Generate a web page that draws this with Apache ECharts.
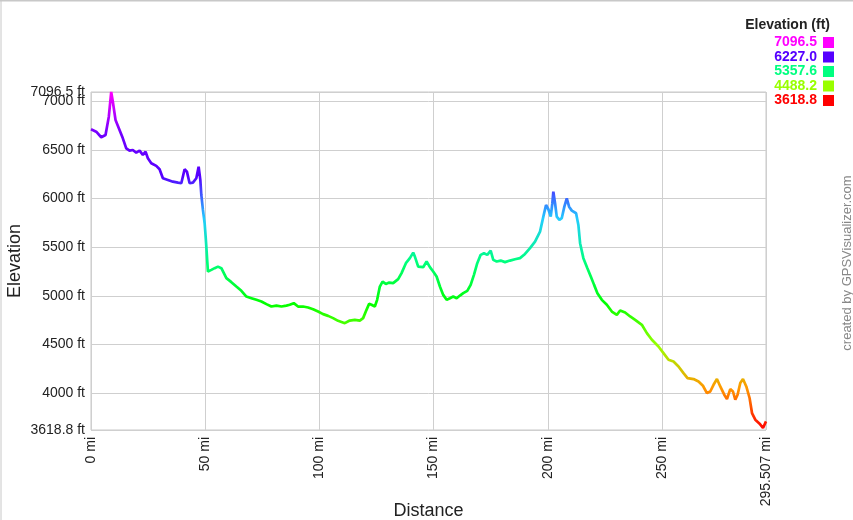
<!DOCTYPE html>
<html>
<head>
<meta charset="utf-8">
<script src="https://cdn.jsdelivr.net/npm/echarts@6/dist/echarts.min.js"></script>
<style>html,body{margin:0;padding:0;background:#fff}#c{width:853px;height:520px}</style>
</head>
<body>
<div id="c"></div>
<script>
// Distance (mi) and elevation (ft) read from the profile
var distance = [0,2.28,4.47,6.36,7.80,8.85,9.56,10.74,12.49,13.94,15.43,16.88,18.32,19.81,21.26,22.70,23.89,24.90,26.39,28.58,30.02,31.47,33.66,35.85,38.05,39.54,40.98,41.99,43.17,44.62,46.11,47.12,47.86,48.30,49.00,49.75,50.19,50.49,51.19,52.69,54.13,55.58,57.07,59.26,61.45,63.64,65.83,68.03,70.22,72.41,74.60,76.79,78.98,81.18,83.37,85.56,87.00,88.76,90.64,92.83,95.03,97.22,99.41,101.60,103.79,105.98,108.17,111.11,113.30,115.49,117.69,119.13,120.62,121.76,122.81,124.26,125.27,126.45,127.64,129.08,130.53,132.28,134.47,135.96,137.85,139.60,141.05,141.79,143.24,145.43,146.92,148.37,149.81,151.30,152.75,154.20,155.69,157.14,158.58,160.07,161.52,162.96,164.72,166.21,167.65,169.10,170.59,172.04,173.48,174.97,176.11,177.60,179.36,181.24,183.43,185.62,187.82,190.01,192.20,194.39,196.58,198.03,199.21,200.22,201.27,201.97,202.41,203.16,203.90,205.04,206.09,207.23,208.29,209.29,210.48,212.36,213.37,214.12,215.56,217.31,218.80,220.25,221.70,223.63,225.82,228.01,230.20,231.65,233.84,236.03,238.22,241.16,243.35,245.54,248.43,250.63,252.82,255.01,257.20,259.39,261.15,263.78,265.97,267.90,269.65,271.10,272.54,274.03,275.48,277.23,278.42,279.86,281.05,282.06,283.07,284.25,285.43,286.88,288.32,289.38,290.82,292.71,294.20,294.77,295.507];
var elevation = [6713,6688,6631,6654,6842,7096.5,6997,6808,6706,6620,6517,6493,6500,6472,6493,6449,6483,6415,6364,6336,6302,6209,6192,6174,6164,6158,6302,6277,6158,6164,6209,6328,6192,6037,5883,5746,5609,5506,5249,5266,5284,5300,5284,5181,5140,5095,5051,4992,4975,4958,4941,4914,4889,4899,4889,4899,4907,4924,4889,4889,4879,4862,4838,4811,4793,4770,4742,4718,4745,4752,4745,4770,4855,4917,4907,4889,4958,5095,5146,5122,5136,5130,5171,5233,5335,5387,5444,5403,5300,5294,5352,5294,5249,5198,5095,5009,4958,4975,4992,4975,5002,5027,5051,5112,5215,5335,5421,5438,5421,5465,5369,5352,5362,5346,5362,5376,5387,5430,5490,5557,5660,5814,5934,5890,5814,5952,6072,5952,5814,5780,5798,5917,6003,5917,5876,5849,5729,5541,5387,5284,5198,5112,5027,4958,4907,4838,4804,4848,4828,4787,4752,4701,4616,4547,4478,4410,4341,4324,4272,4204,4153,4143,4118,4074,3999,4015,4084,4143,4067,3982,3937,4040,4015,3930,3982,4102,4143,4067,3948,3793,3725,3684,3639,3618.8,3707];

var xMin = 0, xMax = 295.507, xStep = 50;
var yMin = 3618.8, yMax = 7096.5;
var xTicks = [0,50,100,150,200,250,295.507];
var yTicks = [3618.8,4000,4500,5000,5500,6000,6500,7000];
var yTopTick = [7096.5];

var legendValues = ['7096.5','6227.0','5357.6','4488.2','3618.8'];
var legendColors = ['#ff00ff','#5500ff','#00ff80','#99ff00','#ff0000'];
var rampColors = ['#ff0000','#ff9900','#99ff00','#00ff00','#00ff80','#22ccff','#5500ff','#7000ff','#ff00ff'];

var data = distance.map(function(d, i){ return [d, elevation[i]]; });

var FONT = '"Liberation Sans", Arial, sans-serif';
var graphics = [
  {type:'line', shape:{x1:0,y1:0.5,x2:853,y2:0.5}, style:{stroke:'#c8c8c8', lineWidth:2}, silent:true},
  {type:'line', shape:{x1:1,y1:0,x2:1,y2:520}, style:{stroke:'#c8c8c8', lineWidth:1}, silent:true},
  {type:'text', x:830, y:25, style:{text:'Elevation (ft)', font:'bold 14px ' + FONT, fill:'#222', align:'right', verticalAlign:'middle'}},
  {type:'text', x:847, y:263, rotation:Math.PI/2, style:{text:'created by GPSVisualizer.com', font:'13px ' + FONT, fill:'#888', align:'center', verticalAlign:'middle'}}
];
legendValues.forEach(function(v, i){
  var yc = 42.5 + i*14.5;
  graphics.push({type:'text', x:817, y:yc, style:{text:v, font:'bold 14px ' + FONT, fill:legendColors[i], align:'right', verticalAlign:'middle'}});
  graphics.push({type:'rect', shape:{x:823, y:yc-5.5, width:11, height:11}, style:{fill:legendColors[i]}});
});

var labelStyle = {margin:6, fontSize:14, color:'#222', fontFamily:FONT, hideOverlap:false, showMinLabel:true, showMaxLabel:true,
  formatter:function(v){ return v + ' ft'; }};

var chart = echarts.init(document.getElementById('c'), null, {renderer:'canvas'});
chart.setOption({
  animation:false,
  backgroundColor:'#fff',
  grid:{left:91, right:87, top:92, bottom:90, containLabel:false, outerBoundsMode:'none', show:true, borderColor:'#c8c8c8', borderWidth:1},
  xAxis:{
    type:'value', min:xMin, max:xMax, interval:xStep,
    name:'Distance', nameLocation:'middle', nameGap:72, nameMoveOverlap:false,
    nameTextStyle:{fontSize:18, color:'#222', fontFamily:FONT},
    axisLine:{show:false}, axisTick:{show:false, customValues:xTicks},
    axisLabel:{customValues:xTicks, rotate:90, margin:7, fontSize:14, color:'#222', fontFamily:FONT, hideOverlap:false, showMinLabel:true, showMaxLabel:true,
      formatter:function(v){ return v + ' mi'; }},
    splitLine:{show:true, lineStyle:{color:'#cfcfcf', width:1}}
  },
  yAxis:[{
    type:'value', min:yMin, max:yMax, position:'left',
    name:'Elevation', nameLocation:'middle', nameGap:67, nameMoveOverlap:false,
    nameTextStyle:{fontSize:18, color:'#222', fontFamily:FONT},
    axisLine:{show:false}, axisTick:{show:false, customValues:yTicks.concat(yTopTick)},
    axisLabel:Object.assign({customValues:yTicks}, labelStyle),
    splitLine:{show:true, lineStyle:{color:'#cfcfcf', width:1}}
  },{
    type:'value', min:yMin, max:yMax, position:'left', offset:0,
    axisLine:{show:false}, axisTick:{show:false, customValues:yTopTick},
    axisLabel:Object.assign({customValues:yTopTick}, labelStyle),
    splitLine:{show:false}
  }],
  visualMap:{show:false, type:'continuous', dimension:1, seriesIndex:0, min:yMin, max:yMax, inRange:{color:rampColors}},
  series:[{type:'line', yAxisIndex:0, data:data, showSymbol:false, lineStyle:{width:2.7}}],
  graphic:graphics
});
</script>
</body>
</html>
